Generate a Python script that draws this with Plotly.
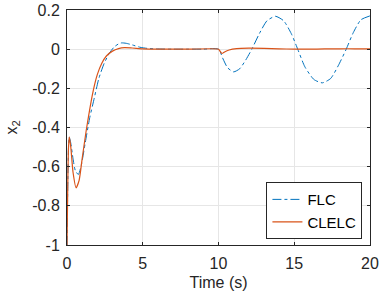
import plotly.graph_objects as go

t_flc = [0, 0.05, 0.1, 0.15, 0.25, 0.4, 0.55, 0.75, 0.95, 1.2, 1.5, 1.8, 2.1, 2.45, 2.8, 3.1, 3.4, 3.6,
         3.9, 4.3, 4.8, 5.3, 6, 7, 8, 9, 10, 10.3, 10.6, 11.0, 11.4, 11.8, 12.2, 12.7, 13.2, 13.76,
         14.3, 14.8, 15.23, 15.7, 16.3, 16.85, 17.4, 17.9, 18.43, 18.9, 19.4, 20]
x2_flc = [-1, -0.7, -0.5, -0.45, -0.48, -0.56, -0.62, -0.64, -0.59, -0.48, -0.35, -0.25, -0.15, -0.073,
          -0.02, 0.01, 0.027, 0.032, 0.03, 0.022, 0.01, 0.004, 0.001, 0, 0, 0, 0, -0.05, -0.095, -0.116,
          -0.1, -0.055, 0, 0.08, 0.145, 0.168, 0.145, 0.08, 0, -0.09, -0.155, -0.172, -0.15, -0.085, 0,
          0.085, 0.15, 0.17]

t_clelc = [0, 0.05, 0.1, 0.15, 0.25, 0.4, 0.6, 0.8, 1.0, 1.3, 1.74, 2.0, 2.29, 2.6, 3.0, 3.4, 3.8, 4.3,
           5, 6, 8, 10, 10.1, 10.23, 10.4, 10.7, 11.2, 12, 13, 14, 15, 16, 17, 18, 19, 20]
x2_clelc = [-1, -0.7, -0.5, -0.448, -0.5, -0.63, -0.708, -0.67, -0.56, -0.4, -0.209, -0.13, -0.073,
            -0.035, -0.01, 0.003, 0.008, 0.006, 0.002, 0, 0, 0, -0.01, -0.022, -0.014, -0.004, 0.003,
            0.005, 0.004, 0.002, 0, 0, 0.001, 0.002, 0.002, 0.001]

x_ticks = [0, 5, 10, 15, 20]
y_ticks = [-1, -0.8, -0.6, -0.4, -0.2, 0, 0.2]
y_tick_labels = ["-1", "-0.8", "-0.6", "-0.4", "-0.2", "0", "0.2"]

font = "Liberation Sans, Arial, sans-serif"
axcol = "#262626"
fs = 16

fig = go.Figure()
fig.add_trace(go.Scatter(x=t_flc, y=x2_flc, mode="lines", name="FLC",
                         line=dict(color="#0072BD", width=1, dash="dashdot", shape="spline", smoothing=0.6)))
fig.add_trace(go.Scatter(x=t_clelc, y=x2_clelc, mode="lines", name="CLELC",
                         line=dict(color="#D95319", width=1.2, shape="spline", smoothing=0.6)))

fig.update_layout(
    width=382, height=293,
    margin=dict(l=67, r=12, t=10, b=48, autoexpand=False),
    paper_bgcolor="white", plot_bgcolor="white",
    font=dict(family=font, size=fs, color=axcol),
    showlegend=True,
    legend=dict(x=0.975, y=0.025, xanchor="right", yanchor="bottom",
                bgcolor="white", bordercolor=axcol, borderwidth=1,
                font=dict(size=15, color="black"), tracegroupgap=0, itemwidth=30),
)
fig.update_xaxes(range=[0, 20], tickvals=x_ticks, ticks="inside", ticklen=3, tickcolor=axcol,
                 showline=True, linecolor=axcol, linewidth=1, mirror="ticks",
                 showgrid=True, gridcolor="#e6e6e6", zeroline=False, automargin=False,
                 ticklabelstandoff=4,
                 title=dict(text="Time (s)", standoff=5, font=dict(size=fs)),
                 tickfont=dict(size=fs))
fig.update_yaxes(range=[-1, 0.2], tickvals=y_ticks, ticktext=y_tick_labels, ticks="inside", ticklen=3,
                 tickcolor=axcol, showline=True, linecolor=axcol, linewidth=1, mirror="ticks",
                 showgrid=True, gridcolor="#e6e6e6", zeroline=False, automargin=False,
                 ticklabelstandoff=3,
                 title=dict(text="x<sub>2</sub>", standoff=10, font=dict(size=fs)),
                 tickfont=dict(size=fs))

fig.write_html("out.html", config={"displayModeBar": False},
               post_script="document.body.style.margin='0';")
